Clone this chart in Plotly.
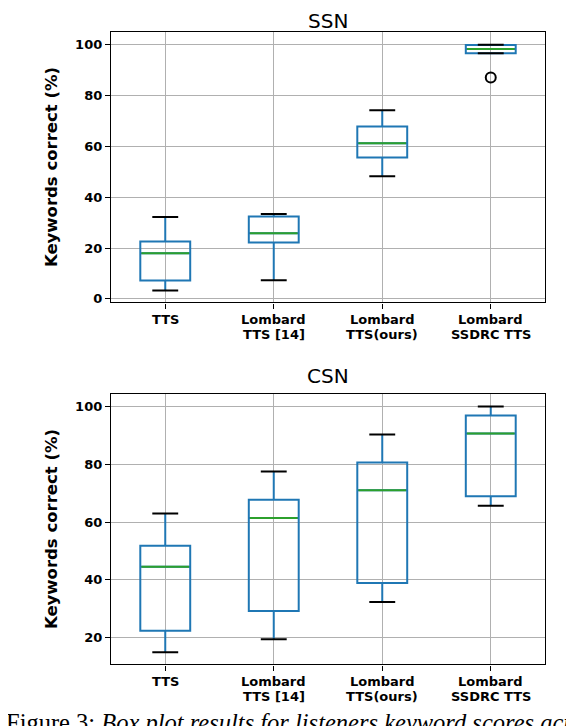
import plotly.graph_objects as go

# system labels (shared by both panels)
systems = ['TTS', 'Lombard<br>TTS [14]', 'Lombard<br>TTS(ours)', 'Lombard<br>SSDRC TTS']

# SSN panel box statistics (keywords correct, %)
ssn_low = [3.3, 7.3, 48.3, 96.7]
ssn_q1 = [7.2, 22.2, 55.6, 96.7]
ssn_med = [17.9, 25.8, 61.2, 98.4]
ssn_q3 = [22.6, 32.4, 67.8, 99.9]
ssn_high = [32.2, 33.4, 74.2, 100.0]
ssn_outlier_x = ['Lombard<br>SSDRC TTS']
ssn_outlier_y = [87.1]

# CSN panel box statistics
csn_low = [14.9, 19.4, 32.3, 65.6]
csn_q1 = [22.3, 29.2, 38.9, 68.9]
csn_med = [44.5, 61.4, 71.0, 90.7]
csn_q3 = [51.8, 67.7, 80.6, 96.9]
csn_high = [63.0, 77.5, 90.3, 100.0]

W, H = 574, 726
blue = '#1f77b4'
green = '#2ca02c'
font = 'DejaVu Sans'

fig = go.Figure()


def add_panel(fig, xa, ya, low, q1, med, q3, high):
    fig.add_trace(go.Box(
        x=systems, q1=q1, median=med, q3=q3, lowerfence=low, upperfence=high,
        xaxis=xa, yaxis=ya, width=0.46, whiskerwidth=0,
        line=dict(color=blue, width=2), fillcolor='rgba(0,0,0,0)',
        boxpoints=False, hoverinfo='skip'))
    # medians in green (line-ew symbol is 1.4 x size long)
    fig.add_trace(go.Scatter(
        x=systems, y=med, mode='markers', xaxis=xa, yaxis=ya,
        marker=dict(symbol='line-ew', size=34, line=dict(color=green, width=2))))
    # black whisker caps
    fig.add_trace(go.Scatter(
        x=systems + systems, y=low + high, mode='markers', xaxis=xa, yaxis=ya,
        marker=dict(symbol='line-ew', size=18.5, line=dict(color='black', width=2))))


add_panel(fig, 'x', 'y', ssn_low, ssn_q1, ssn_med, ssn_q3, ssn_high)
fig.add_trace(go.Scatter(
    x=ssn_outlier_x, y=ssn_outlier_y, mode='markers',
    marker=dict(symbol='circle-open', size=10, color='black', line=dict(width=2))))
add_panel(fig, 'x2', 'y2', csn_low, csn_q1, csn_med, csn_q3, csn_high)

xdom = [103 / W, 537 / W]
dom1 = [1 - 296 / H, 1 - 24 / H]
dom2 = [1 - 660 / H, 1 - 388 / H]

xax = dict(domain=xdom, type='category', range=[-0.5, 3.5], showgrid=True,
           gridcolor='#b0b0b0', gridwidth=1, showline=True, mirror=True,
           linecolor='black', linewidth=1.3, ticks='outside', ticklen=5,
           tickwidth=1.3, tickcolor='black', zeroline=False, showticklabels=False)
yax = dict(showgrid=True, gridcolor='#b0b0b0', gridwidth=1, showline=True,
           mirror=True, linecolor='black', linewidth=1.3, ticks='outside',
           ticklen=5, tickwidth=1.3, tickcolor='black', zeroline=False,
           tickmode='linear', dtick=20,
           tickfont=dict(family=font, size=13, weight='bold', color='black'))

fig.update_layout(
    width=W, height=H, margin=dict(l=0, r=0, t=0, b=0),
    paper_bgcolor='white', plot_bgcolor='white', showlegend=False,
    xaxis=dict(xax, anchor='y'),
    yaxis=dict(yax, domain=dom1, anchor='x', range=[-1.4, 105.1], tick0=0),
    xaxis2=dict(xax, anchor='y2'),
    yaxis2=dict(yax, domain=dom2, anchor='x2', range=[10.7, 104.4], tick0=0),
)

# category labels, two tight lines under each tick
for xa, bottom in [('x', 296), ('x2', 660)]:
    for i, name in enumerate(systems):
        lines = name.split('<br>')
        for k, line in enumerate(lines[::-1]):
            off = 32 - 15 * k if len(lines) > 1 else 17
            fig.add_annotation(text=line, x=i, y=1 - (bottom + off) / H, xref=xa,
                               yref='paper', xanchor='center', yanchor='middle',
                               showarrow=False,
                               font=dict(family=font, size=13, weight='bold',
                                         color='black'))

xmid = (xdom[0] + xdom[1]) / 2
for txt, yc in [('SSN', 13), ('CSN', 370)]:
    fig.add_annotation(text=txt, x=xmid, y=1 - yc / H, xref='paper', yref='paper',
                       xanchor='center', yanchor='middle', showarrow=False,
                       font=dict(family=font, size=20, color='black'))
for yc in [(dom1[0] + dom1[1]) / 2, (dom2[0] + dom2[1]) / 2]:
    fig.add_annotation(text='Keywords correct (%)', x=43 / W, y=yc, xref='paper',
                       yref='paper', xanchor='center', yanchor='middle',
                       textangle=-90, showarrow=False,
                       font=dict(family=font, size=16.5, weight='bold', color='black'))

fig.add_annotation(
    text='Figure 3: <i>Box plot results for listeners keyword scores across systems</i>',
    x=-4 / W, y=1 - 734 / H, xref='paper', yref='paper', xanchor='left',
    yanchor='bottom', showarrow=False,
    font=dict(family='Liberation Serif', size=24.5, color='black'))

fig.write_html('out.html')
